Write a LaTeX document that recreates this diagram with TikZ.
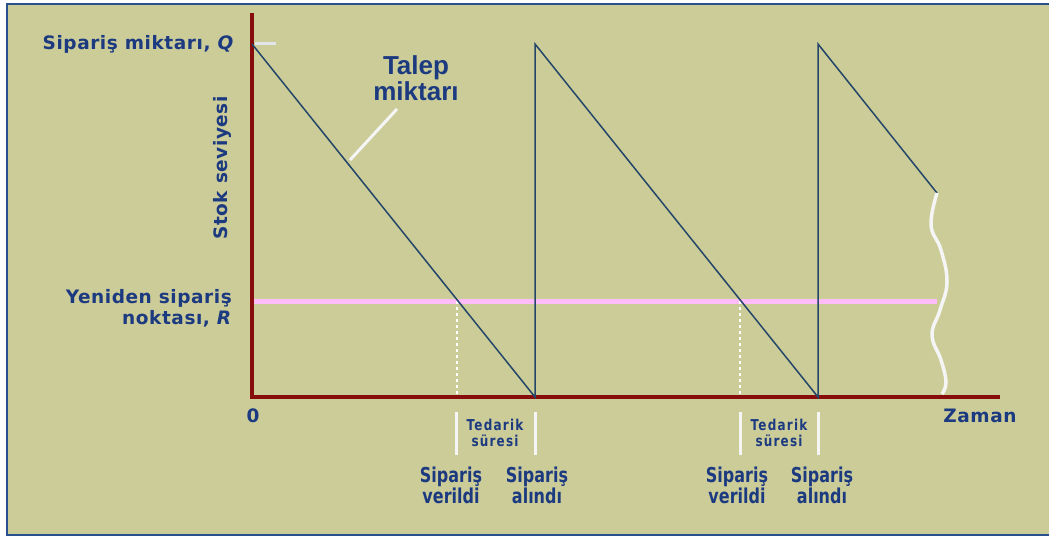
\documentclass[tikz,border=0pt]{standalone}
\usepackage{fontspec}
\setmainfont{DejaVu Sans}
\newfontfamily\condfont[FakeStretch=0.78]{DejaVu Sans}
\newfontfamily\spacedfont[FakeStretch=0.8,LetterSpace=8]{DejaVu Sans}
\newfontfamily\widefont[LetterSpace=3]{DejaVu Sans}
\newfontfamily\arialfont{Liberation Sans}
\definecolor{khaki}{RGB}{204,204,153}
\definecolor{txtblue}{RGB}{28,58,128}
\definecolor{axisred}{RGB}{135,12,12}
\definecolor{sawblue}{RGB}{35,70,105}
\definecolor{pinkR}{RGB}{255,188,248}
\definecolor{frameblue}{RGB}{40,80,140}
\definecolor{tickwhite}{RGB}{225,228,232}
\tikzset{
  axisline/.style={axisred, line width=3.5pt},
  sawline/.style={sawblue, line width=1.5pt},
  whiteline/.style={white!92!gray, line width=3pt},
  lbl/.style={text=txtblue, font=\widefont\fontsize{18.5}{21}\selectfont\bfseries, inner sep=0pt},
  smalllbl/.style={text=txtblue, font=\spacedfont\fontsize{15}{16}\selectfont\bfseries, inner sep=0pt, align=center},
  eventlbl/.style={text=txtblue, font=\condfont\fontsize{20.5}{19.5}\selectfont\bfseries, inner sep=0pt, align=center},
}
\begin{document}
\begin{tikzpicture}[x=1pt,y=-1pt]
\useasboundingbox (0,0) rectangle (1049,539);
% background panel and frame
\fill[khaki] (7,4) rectangle (1049,535);
\draw[frameblue, line width=2.5pt] (1049,4) -- (7,4) -- (7,535) -- (1049,535);

% key points
\coordinate (O) at (252,397);
\coordinate (ytop) at (252,13);
\coordinate (xend) at (1000,397);
\coordinate (Q0) at (252,44);
\coordinate (z1) at (535,397);
\coordinate (q1) at (535,44);
\coordinate (z2) at (818,397);
\coordinate (q2) at (818,44);
\coordinate (cut) at (937,193);
\coordinate (R0) at (254,301);
\coordinate (Rend) at (937,301);
\coordinate (r1) at (457,301);
\coordinate (r1b) at (457,396);
\coordinate (r2) at (740,301);
\coordinate (r2b) at (740,396);

% reorder point level
\draw[pinkR, line width=5pt] (R0) -- (Rend);

% lead-time drop lines
\draw[white, line width=2.5pt, dash pattern=on 3pt off 3pt] (r1) -- (r1b);
\draw[white, line width=2.5pt, dash pattern=on 3pt off 3pt] (r2) -- (r2b);

% axes
\draw[axisline] (ytop) -- (O) -- (xend);

% inventory sawtooth
\draw[sawline] (Q0) -- (z1) -- (q1) -- (z2) -- (q2) -- (cut);

% break in the time axis
\draw[whiteline, line width=3.5pt] plot[smooth, tension=0.7] coordinates
  {(cut) (931,225) (941,250) (947,282) (940,310) (932,335) (941,360) (946,382) (942,394)};

% tick at Q
\coordinate (qt1) at (255,43);
\coordinate (qt2) at (276,43);
\draw[tickwhite, line width=3pt] (qt1) -- (qt2);

% axis labels
\node[lbl, anchor=east] (qlab) at (234,44) {Sipariş miktarı, \textit{Q}};
\node[lbl, anchor=east, align=right] (rlab) at (232,308) {Yeniden sipariş\\noktası, \textit{R}};
\node[lbl, rotate=90] (ylab) at (222,168) {Stok seviyesi};
\node[lbl] (zero) at (253,416) {0};
\node[lbl] (xlab) at (980,416) {Zaman};

% demand label with leader
\node[text=txtblue, font=\arialfont\fontsize{26}{26}\selectfont\bfseries, align=center, inner sep=0pt] (talep) at (416,78) {Talep\\miktarı};
\coordinate (lead) at (350,160);
\coordinate (leadtop) at (397,109);
\draw[whiteline] (lead) -- (leadtop);

% first lead time
\coordinate (a1) at (456,412); \coordinate (a2) at (456,455);
\coordinate (b1) at (535,412); \coordinate (b2) at (535,455);
\draw[whiteline] (a1) -- (a2);
\draw[whiteline] (b1) -- (b2);
\node[smalllbl] (lt1) at (495,433) {Tedarik\\süresi};
\node[eventlbl] (pv1) at (451,485) {Sipariş\\verildi};
\node[eventlbl] (pa1) at (537,485) {Sipariş\\alındı};

% second lead time
\coordinate (c1) at (740,412); \coordinate (c2) at (740,455);
\coordinate (d1) at (818,412); \coordinate (d2) at (818,455);
\draw[whiteline] (c1) -- (c2);
\draw[whiteline] (d1) -- (d2);
\node[smalllbl] (lt2) at (779,433) {Tedarik\\süresi};
\node[eventlbl] (pv2) at (737,485) {Sipariş\\verildi};
\node[eventlbl] (pa2) at (822,485) {Sipariş\\alındı};
\end{tikzpicture}
\end{document}
